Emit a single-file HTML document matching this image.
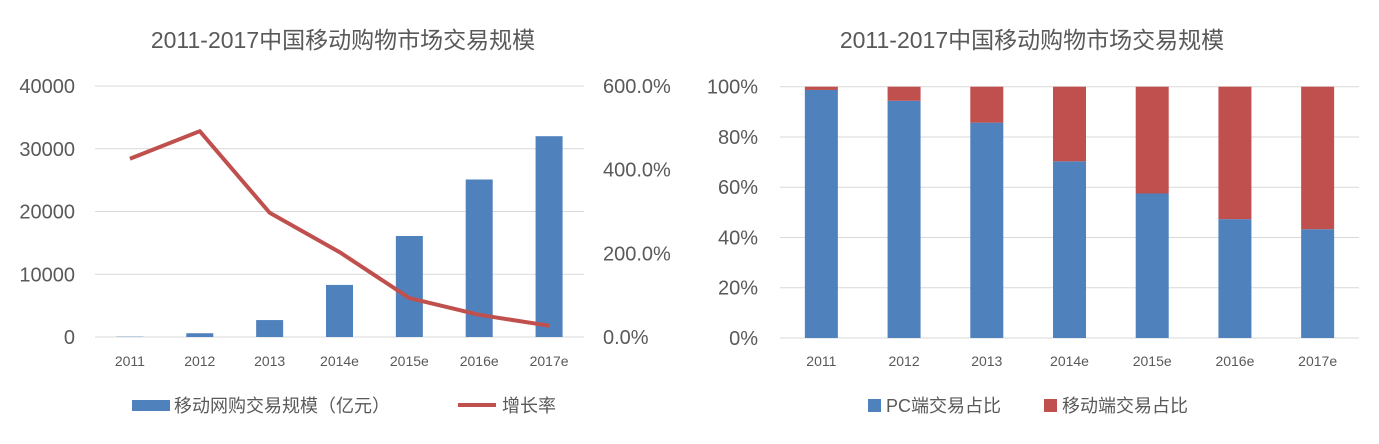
<!DOCTYPE html>
<html><head><meta charset="utf-8"><style>
body{margin:0;background:#fff;width:1379px;height:439px;overflow:hidden}
text{font-family:"Liberation Sans","Noto Sans CJK SC",sans-serif;fill:#595959}
</style></head><body>
<svg width="1379" height="439" xmlns="http://www.w3.org/2000/svg">
<g id="left"></g>
<g id="right"></g>
</svg>
<script>
const categories=["2011","2012","2013","2014e","2015e","2016e","2017e"];
const mobileVolume=[50,600,2700,8300,16100,25100,32000];
const growthRate=[426,492,297,203,93,53,27];
const pcShare=[98.7,94.4,85.7,70.3,57.5,47.3,43.3];
const leftTicks=["0","10000","20000","30000","40000"];
const rightTicks=["0.0%","200.0%","400.0%","600.0%"];
const pctTicks=["0%","20%","40%","60%","80%","100%"];
const NS="http://www.w3.org/2000/svg";
function mk(p,tag,a,txt){const e=document.createElementNS(NS,tag);for(const k in a)e.setAttribute(k,a[k]);if(txt!==undefined)e.textContent=txt;p.appendChild(e);return e;}
// Left chart
const L=document.getElementById('left');
const lx0=95,lx1=584,ly0=337,ly1=86,lband=(lx1-lx0)/categories.length;
const yL=v=>ly0-(v/40000)*(ly0-ly1);
const yR=v=>ly0-(v/600)*(ly0-ly1);
const xL=i=>lx0+lband*(i+0.5);
let t=mk(L,'text',{x:343,y:48,'text-anchor':'middle','font-size':23},'2011-2017中国移动购物市场交易规模');

leftTicks.forEach((s,i)=>{const v=i*10000,y=yL(v);
 const g=mk(L,'line',{x1:lx0,x2:lx1,y1:y,y2:y,stroke:'#d9d9d9','stroke-width':1});
 
 const tx=mk(L,'text',{x:75,y:y+7,'text-anchor':'end','font-size':20},s);
 });
rightTicks.forEach((s,i)=>{const y=yR(i*200);
 const tx=mk(L,'text',{x:603,y:y+7,'font-size':20},s);
 });
categories.forEach((c,i)=>{
 const b=mk(L,'rect',{x:xL(i)-13.5,y:yL(mobileVolume[i]),width:27,height:ly0-yL(mobileVolume[i]),fill:'#4f81bd'});
 
 const tx=mk(L,'text',{x:xL(i),y:366,'text-anchor':'middle','font-size':14},c);
 });
const pl=mk(L,'polyline',{points:growthRate.map((v,i)=>xL(i)+','+yR(v)).join(' '),fill:'none',stroke:'#c0504d','stroke-width':4,'stroke-linejoin':'round'});

let lg=mk(L,'rect',{x:132,y:400,width:38,height:11,fill:'#4f81bd'});

t=mk(L,'text',{x:174,y:412,'font-size':18},'移动网购交易规模（亿元）');

lg=mk(L,'line',{x1:458,x2:496,y1:405,y2:405,stroke:'#c0504d','stroke-width':4});

t=mk(L,'text',{x:502,y:412,'font-size':18},'增长率');

// Right chart
const R=document.getElementById('right');
const rx0=780,rx1=1359,ry0=338,ry1=86.7,rband=(rx1-rx0)/categories.length;
const yP=v=>ry0-(v/100)*(ry0-ry1);
const xRc=i=>rx0+rband*(i+0.5);
t=mk(R,'text',{x:1032,y:48,'text-anchor':'middle','font-size':23},'2011-2017中国移动购物市场交易规模');

pctTicks.forEach((s,i)=>{const y=yP(i*20);
 const g=mk(R,'line',{x1:rx0,x2:rx1,y1:y,y2:y,stroke:'#d9d9d9','stroke-width':1});
 
 const tx=mk(R,'text',{x:758,y:y+7,'text-anchor':'end','font-size':20},s);
 });
categories.forEach((c,i)=>{
 const b=mk(R,'rect',{x:xRc(i)-16.5,y:yP(pcShare[i]),width:33,height:ry0-yP(pcShare[i]),fill:'#4f81bd'});
 
 const m=mk(R,'rect',{x:xRc(i)-16.5,y:yP(100),width:33,height:yP(pcShare[i])-yP(100),fill:'#c0504d'});
 
 const tx=mk(R,'text',{x:xRc(i),y:366,'text-anchor':'middle','font-size':14},c);
 });
lg=mk(R,'rect',{x:868,y:399,width:13,height:13,fill:'#4f81bd'});

t=mk(R,'text',{x:886,y:412,'font-size':18},'PC端交易占比');

lg=mk(R,'rect',{x:1044,y:399,width:13,height:13,fill:'#c0504d'});

t=mk(R,'text',{x:1062,y:412,'font-size':18},'移动端交易占比');

</script>
</body></html>
